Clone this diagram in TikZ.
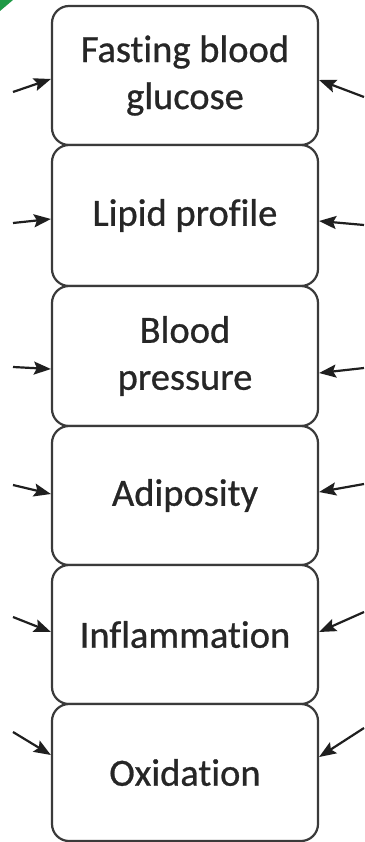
\documentclass[tikz,border=0pt]{standalone}
\usepackage{fontspec}
\setmainfont{Carlito}[Ligatures=NoCommon,FakeBold=0.7]
\usetikzlibrary{arrows.meta,calc}
\definecolor{boxline}{HTML}{3A3A3A}
\definecolor{txt}{HTML}{262626}
\definecolor{grn}{HTML}{1E9A46}
\begin{document}
\begin{tikzpicture}[x=1pt,y=-1pt,
  box/.style={draw=boxline,line width=2.2pt,rounded corners=17pt,fill=white,
    minimum width=266pt,align=center,text=txt,
    font=\fontsize{38.5}{47}\selectfont,inner sep=0pt},
  arr/.style={draw=black!88,line width=2.2pt,-{Stealth[length=17pt,width=13pt,inset=3pt]}}]
\useasboundingbox (0,0) rectangle (364,842);
\fill[white] (0,0) rectangle (364,842);
\fill[grn] (0,0) -- (13,0) -- (0,11) -- cycle;
\node[box,minimum height=139pt] (b1) at (185,75.5) {Fasting blood\\glucose};
\node[box,minimum height=141pt] (b2) at (185,215.5) {Lipid profile};
\node[box,minimum height=140pt] (b3) at (185,356) {Blood\\pressure};
\node[box,minimum height=139pt] (b4) at (185,495.5) {Adiposity};
\node[box,minimum height=139pt] (b5) at (185,634.5) {Inflammation};
\node[box,minimum height=137pt] (b6) at (185,772.5) {Oxidation};
\coordinate (l1) at (13,92);   \coordinate (r1) at (364,97);
\coordinate (l2) at (13,223);  \coordinate (r2) at (364,225);
\coordinate (l3) at (13,367);  \coordinate (r3) at (364,368);
\coordinate (l4) at (13,485);  \coordinate (r4) at (364,484);
\coordinate (l5) at (13,617);  \coordinate (r5) at (364,612);
\coordinate (l6) at (13,732);  \coordinate (r6) at (364,728);
\draw[arr] (l1) -- ($(b1.west)+(0,3.5)$);
\draw[arr] (r1) -- ($(b1.east)+(0,4.5)$);
\draw[arr] (l2) -- ($(b2.west)+(0,3.5)$);
\draw[arr] (r2) -- ($(b2.east)+(0,5.5)$);
\draw[arr] (l3) -- ($(b3.west)+(0,13)$);
\draw[arr] (r3) -- ($(b3.east)+(0,17)$);
\draw[arr] (l4) -- ($(b4.west)+(0,-1.5)$);
\draw[arr] (r4) -- ($(b4.east)+(0,-3.5)$);
\draw[arr] (l5) -- ($(b5.west)+(0,-2.5)$);
\draw[arr] (r5) -- ($(b5.east)+(0,-2.5)$);
\draw[arr] (l6) -- ($(b6.west)+(0,-17.5)$);
\draw[arr] (r6) -- ($(b6.east)+(0,-15.5)$);
\end{tikzpicture}
\end{document}
